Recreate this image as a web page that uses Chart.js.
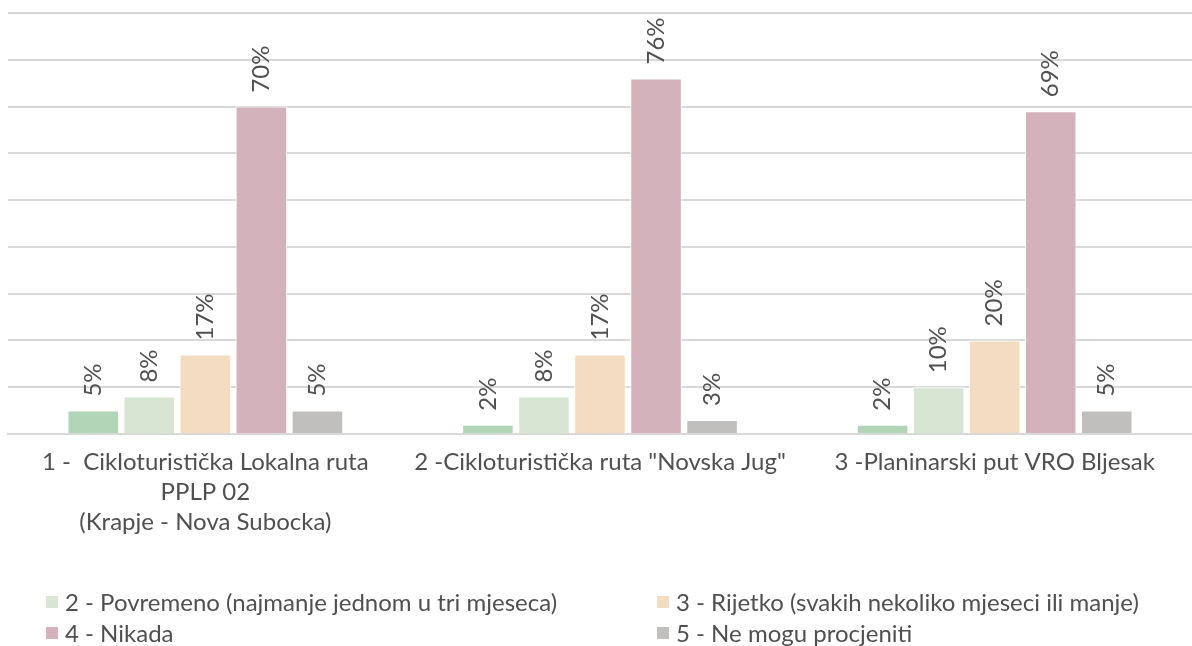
<!DOCTYPE html>
<html>
<head>
<meta charset="utf-8">
<script src="https://cdn.jsdelivr.net/npm/chart.js@4/dist/chart.umd.min.js"></script>
<style>
  body { margin: 0; background: #fff; font-family: Lato, sans-serif; }
  #wrap { position: relative; width: 1192px; height: 646px; overflow: hidden; }
  #legend { position: absolute; left: 46px; top: 586px; width: 1146px;
    display: grid; grid-template-columns: 611px 535px; grid-auto-rows: 31px;
    font-size: 24px; color: #505050; }
  #legend div { display: flex; align-items: center; white-space: nowrap; }
  #legend span.box { width: 12px; height: 12px; margin-right: 7px; display: inline-block; }
</style>
</head>
<body>
<div id="wrap">
  <canvas id="chart" width="1192" height="646"></canvas>
  <div id="legend"></div>
</div>
<script>
const categories = [
  ["1 -  Cikloturistička Lokalna ruta", "PPLP 02", "(Krapje - Nova Subocka)"],
  ["2 -Cikloturistička ruta \"Novska Jug\""],
  ["3 -Planinarski put VRO Bljesak"]
];
const seriesNames = [
  "1 - Redovito",
  "2 - Povremeno (najmanje jednom u tri mjeseca)",
  "3 - Rijetko (svakih nekoliko mjeseci ili manje)",
  "4 - Nikada",
  "5 - Ne mogu procjeniti"
];
const seriesColors = ["#b3d5b7", "#d9e5d3", "#f4dcc1", "#d4b2bb", "#c0bfbd"];
const series1 = [5, 2, 2];
const series2 = [8, 8, 10];
const series3 = [17, 17, 20];
const series4 = [70, 76, 69];
const series5 = [5, 3, 5];
const legendShown = [1, 2, 3, 4];

const values = [series1, series2, series3, series4, series5];

// rotated % labels above each bar
const barLabels = {
  id: "barLabels",
  afterDatasetsDraw(chart) {
    const ctx = chart.ctx;
    ctx.save();
    ctx.font = "24px Lato";
    ctx.fillStyle = "#505050";
    ctx.textAlign = "left";
    ctx.textBaseline = "middle";
    chart.data.datasets.forEach((ds, i) => {
      chart.getDatasetMeta(i).data.forEach((bar, j) => {
        ctx.save();
        ctx.translate(bar.x, bar.y - 14);
        ctx.rotate(-Math.PI / 2);
        ctx.fillText(ds.data[j] + "%", 0, 0);
        ctx.restore();
      });
    });
    ctx.restore();
  }
};

const chart = new Chart(document.getElementById("chart"), {
  type: "bar",
  data: {
    labels: categories,
    datasets: values.map((v, i) => ({
      label: seriesNames[i],
      data: v,
      backgroundColor: seriesColors[i],
      borderColor: "#ffffff",
      borderWidth: 1,
      categoryPercentage: 0.71,
      barPercentage: 0.92
    }))
  },
  options: {
    responsive: false,
    animation: false,
    layout: { padding: { left: 8, right: 0, top: 13, bottom: 104 } },
    plugins: { legend: { display: false }, tooltip: { enabled: false } },
    scales: {
      x: {
        grid: { display: false },
        border: { color: "#d9d9d9", width: 2 },
        ticks: { color: "#505050", font: { family: "Lato", size: 24, lineHeight: 1.25 }, maxRotation: 0, autoSkip: false, padding: 5 }
      },
      y: {
        min: 0, max: 90,
        ticks: { display: false, stepSize: 10 },
        border: { display: false },
        grid: { color: "#d9d9d9", lineWidth: 2, drawTicks: false }
      }
    }
  },
  plugins: [barLabels]
});

const legend = document.getElementById("legend");
legendShown.forEach(i => {
  const item = document.createElement("div");
  item.innerHTML = `<span class="box" style="background:${seriesColors[i]}"></span>${seriesNames[i]}`;
  legend.appendChild(item);
});
</script>
</body>
</html>
